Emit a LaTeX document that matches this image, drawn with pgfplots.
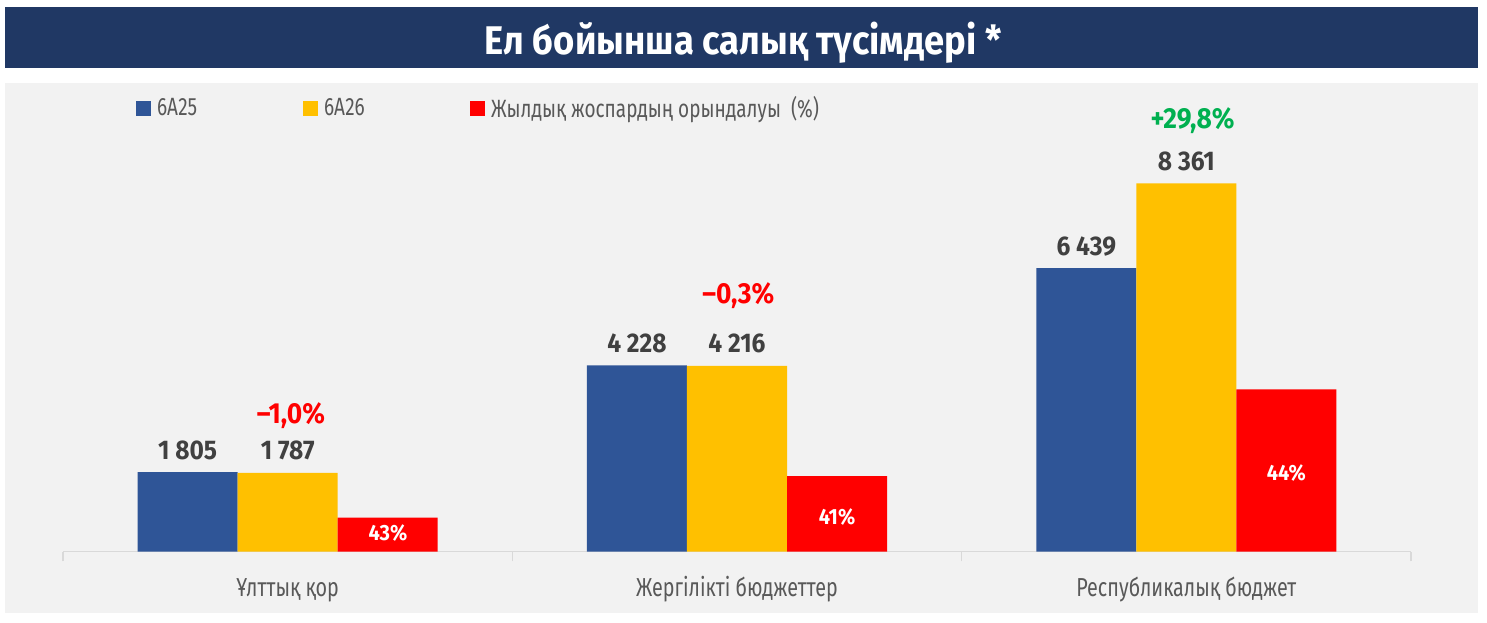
\documentclass[border=0pt]{standalone}
\usepackage{pgfplots}
\pgfplotsset{compat=1.18}
\usepackage{fontspec}
\setmainfont{Fira Sans}[FakeStretch=0.76, BoldFeatures={FakeStretch=0.91}]
\definecolor{navy}{HTML}{203864}
\definecolor{panel}{HTML}{F2F2F2}
\definecolor{cblue}{HTML}{2F5597}
\definecolor{cyellow}{HTML}{FFC000}
\definecolor{cred}{HTML}{FF0000}
\definecolor{cgreen}{HTML}{00B050}
\definecolor{vgray}{HTML}{404040}
\definecolor{lgray}{HTML}{595959}
\definecolor{agray}{HTML}{D9D9D9}
\begin{document}
\begin{tikzpicture}[x=1pt,y=1pt]
\useasboundingbox (0,0) rectangle (1487,623);
\fill[white] (0,0) rectangle (1487,623);
\fill[navy] (5,555) rectangle (1478,616);
\fill[panel] (5,10) rectangle (1478,540);
\node[text=white, font=\bfseries\fontsize{40}{48}\selectfont, anchor=base, inner sep=0pt] at (743,568) {Ел бойынша салық түсімдері *};
\begin{axis}[
  at={(63pt,71.5pt)}, anchor=south west,
  scale only axis, width=1348pt, height=468.5pt,
  xmin=0, xmax=3, ymin=0, ymax=10644,
  clip=false,
  axis y line=none, axis x line=bottom,
  x axis line style={-, draw=agray, line width=1.5pt},
  xtick={0.5,1.5,2.5},
  xticklabels={Ұлттық қор, Жергілікті бюджеттер, Республикалық бюджет},
  minor xtick={0,1,2,3},
  major tick length=0pt, minor tick length=10pt, tick align=outside,
  tick style={draw=agray, line width=1.5pt},
  minor tick style={draw=agray, line width=1.5pt},
  xticklabel style={font=\fontsize{26}{30}\selectfont, text=lgray, anchor=base, yshift=-45pt},
  legend style={draw=none, fill=none, at={(0.0541,0.9466)}, anchor=west,
    font=\fontsize{25}{30}\selectfont, text=lgray, inner sep=0pt,
    nodes={inner sep=0pt},
    /tikz/every odd column/.append style={column sep=6pt}},
  legend columns=3,
  legend cell align=left,
]
\addplot[ybar, bar width=100pt, bar shift=0pt, fill=cblue, draw=none,
  legend image code/.code={\fill[cblue] (0pt,-7.5pt) rectangle (15pt,7.5pt);},
  point meta=explicit symbolic, nodes near coords,
  every node near coord/.append style={anchor=base, yshift=13pt, font=\bfseries\fontsize{27}{30}\selectfont, text=vgray}]
  coordinates {(0.2774,1805) [1 805] (1.2774,4228) [4 228] (2.2774,6439) [6 439]};
\addlegendentry{\makebox[146pt][l]{6A25}}
\addplot[ybar, bar width=100pt, bar shift=0pt, fill=cyellow, draw=none,
  legend image code/.code={\fill[cyellow] (0pt,-7.5pt) rectangle (15pt,7.5pt);},
  point meta=explicit symbolic, nodes near coords,
  every node near coord/.append style={anchor=base, yshift=13pt, font=\bfseries\fontsize{27}{30}\selectfont, text=vgray}]
  coordinates {(0.5,1787) [1 787] (1.5,4216) [4 216] (2.5,8361) [8 361]};
\addlegendentry{\makebox[146pt][l]{6A26}}
\addplot[ybar, bar width=100pt, bar shift=0pt, fill=cred, draw=none,
  legend image code/.code={\fill[cred] (0pt,-7.5pt) rectangle (15pt,7.5pt);}]
  coordinates {(0.7226,768) (1.7226,1715) (2.7226,3685)};
\addlegendentry{Жылдық жоспардың орындалуы\ \ (\%)}
% percentage labels inside red bars
\addplot[draw=none, mark=none, forget plot, point meta=explicit symbolic, nodes near coords,
  every node near coord/.append style={anchor=base, font=\bfseries\fontsize{22}{26}\selectfont, text=white}]
  coordinates {(0.7233,239) [43\%] (1.7226,618) [41\%] (2.7226,1624) [44\%]};
% change labels
\addplot[draw=none, mark=none, forget plot, point meta=explicit symbolic, nodes near coords,
  every node near coord/.append style={anchor=base, font=\bfseries\fontsize{29}{32}\selectfont, text=cred}]
  coordinates {(0.5072,2913) [{–1,0\%}] (1.503,5639) [{–0,3\%}] (2.514,9615) [{\textcolor{cgreen}{+29,8\%}}]};
\end{axis}
\end{tikzpicture}
\end{document}
